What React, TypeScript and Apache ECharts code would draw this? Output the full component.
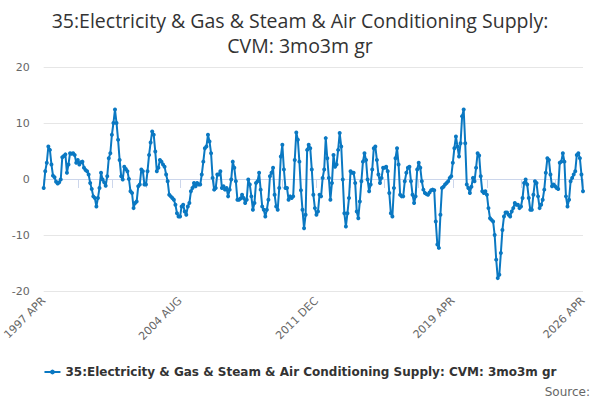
import * as echarts from 'echarts'
import { useEffect, useRef } from 'react'

const MONTHS = ['JAN', 'FEB', 'MAR', 'APR', 'MAY', 'JUN', 'JUL', 'AUG', 'SEP', 'OCT', 'NOV', 'DEC']
const START_YEAR = 1997
const START_MONTH = 3 // APR

// 3 month on 3 month growth, %, monthly from 1997 APR to 2026 APR
const growth = [
  -1.6, 1.4, 2.9, 5.8, 5.2, 2.6, 0.6, 0.3, -0.5, -0.8,
  -0.6, -0.1, 3.9, 4.1, 4.4, 1.1, 2.6, 4.6, 4.5, 4.6,
  4.3, 2.9, 3.4, 2.6, 3.0, 3.1, 2.0, 1.6, 1.4, 0.8,
  -0.7, -1.8, -3.1, -3.4, -4.9, -3.4, -1.6, 1.1, -0.1, -0.6,
  -1.2, 0.5, 3.7, 4.6, 7.9, 10.0, 12.4, 10.0, 7.0, 3.4,
  0.5, -0.1, 2.2, 1.8, 1.4, 0.0, -2.2, -2.5, -5.2, -4.3,
  -4.0, -1.3, -1.0, 1.7, 1.4, -1.0, -1.0, 1.4, 4.3, 6.5,
  8.5, 7.9, 4.9, 1.4, 2.0, 3.4, 3.1, 2.6, 2.2, 0.8,
  -0.4, -2.8, -3.1, -3.4, -3.7, -4.6, -6.1, -6.7, -6.7, -4.9,
  -4.6, -5.8, -6.4, -4.9, -4.3, -2.2, -1.6, -0.7, -1.3, -0.7,
  -1.0, -1.0, 0.8, 3.1, 5.5, 5.8, 7.9, 6.7, 4.6, 0.2,
  -1.9, -1.6, 0.8, 0.8, 1.4, -1.6, -1.3, -1.9, -1.6, -3.1,
  -1.9, -0.1, 3.1, 2.0, -0.4, -3.7, -3.7, -3.5, -2.8, -3.4,
  -4.3, -3.7, -0.1, -1.0, -3.1, -5.5, -4.3, -0.7, -0.4, 1.1,
  -1.9, -4.9, -5.5, -6.7, -5.5, -3.7, 0.5, 1.1, 2.0, -2.8,
  -4.9, -5.5, -1.6, 4.0, 6.1, 1.7, -1.6, -1.6, -3.7, -3.1,
  -3.4, -3.1, 3.4, 8.3, 7.0, 3.1, -2.0, -5.5, -8.8, -6.4,
  5.2, 6.1, 5.5, 1.7, -2.8, -5.2, -6.4, -5.8, -2.8, -3.1,
  0.2, 1.7, 7.3, 3.7, 0.2, -3.7, -0.7, 4.3, 2.2, 2.6,
  5.2, 8.2, 5.8, -0.1, -6.1, -8.5, -6.1, -3.4, 1.4, 1.1,
  1.1, -0.7, -5.8, -7.0, -4.0, -0.4, 3.1, 4.6, 3.4, -0.1,
  -2.2, -1.0, 1.7, 5.5, 5.8, 3.4, 0.8, -0.7, 0.2, 2.0,
  2.0, 2.2, 1.4, -2.5, -6.1, -6.7, -1.6, 3.7, 5.5, 2.6,
  -2.8, -3.1, -3.1, -0.4, 1.1, 2.0, 2.2, -0.4, -2.8, -4.3,
  -3.1, 1.7, 2.9, 2.0, -0.4, -1.9, -2.5, -2.7, -2.8, -2.4,
  -2.0, -1.9, -2.0, -7.6, -11.7, -12.3, -6.4, -1.6, -1.4, -1.0,
  -0.7, -0.4, 0.2, 0.5, 2.9, 5.5, 7.6, 5.8, 4.0, 6.4,
  11.2, 12.4, 6.4, -1.0, -1.6, -2.5, -1.4, 0.2, -0.4, 2.0,
  4.6, 4.2, 0.5, -2.2, -2.5, -2.2, -2.8, -5.2, -7.0, -7.3,
  -7.6, -10.0, -14.4, -17.7, -17.1, -13.2, -9.1, -6.7, -6.0, -6.0,
  -6.4, -6.7, -5.8, -5.2, -4.3, -4.6, -4.6, -5.2, -4.9, -3.4,
  -0.7, -0.1, -1.0, -3.4, -5.5, -5.5, -2.8, -0.4, -0.7, -3.1,
  -5.2, -4.6, -3.7, -1.9, 1.1, 3.7, 3.4, 0.8, -1.3, -1.0,
  -1.3, -1.6, -1.8, 2.9, 3.1, 4.6, 3.1, -3.1, -4.9, -3.7,
  -0.4, 0.2, 0.8, 1.4, 4.3, 4.6, 3.7, 0.8, -2.2,
]

const months = growth.map((_, i) => {
  const m = START_MONTH + i
  return `${START_YEAR + Math.floor(m / 12)} ${MONTHS[m % 12]}`
})

const SERIES_NAME = '35:Electricity & Gas & Steam & Air Conditioning Supply: CVM: 3mo3m gr'
const TITLE = '35:Electricity & Gas & Steam & Air Conditioning Supply:\nCVM: 3mo3m gr'

export default function App() {
  const chartRef = useRef<HTMLDivElement>(null)

  useEffect(() => {
    if (!chartRef.current) return
    const chart = echarts.init(chartRef.current, null, { renderer: 'svg' })

    chart.setOption({
      animation: false,
      textStyle: { fontFamily: 'DejaVu Sans' },
      title: {
        text: TITLE,
        left: 'center',
        top: 3,
        textStyle: {
          fontFamily: 'Open Sans',
          fontSize: 19.5,
          fontWeight: 'normal',
          color: '#333333',
          lineHeight: 25,
        },
      },
      grid: { left: 43, right: 17, top: 67, bottom: 109, containLabel: false },
      legend: {
        bottom: 17,
        left: 'center',
        itemWidth: 16,
        itemHeight: 6,
        textStyle: { fontSize: 12, fontWeight: 'bold', color: '#333333' },
        data: [SERIES_NAME],
      },
      xAxis: {
        type: 'category',
        data: months,
        boundaryGap: false,
        axisLine: { lineStyle: { color: '#ccd6eb' } },
        axisTick: { interval: 21, length: 9, lineStyle: { color: '#ccd6eb' } },
        axisLabel: {
          interval: 87,
          showMinLabel: true,
          showMaxLabel: true,
          rotate: 45,
          color: '#666666',
          fontSize: 11,
          margin: 8,
        },
        splitLine: { show: false },
      },
      yAxis: {
        type: 'value',
        min: -20,
        max: 20,
        interval: 10,
        axisLine: { show: false },
        axisTick: { show: false },
        axisLabel: { color: '#666666', fontSize: 11, margin: 14 },
        splitLine: { lineStyle: { color: '#e6e6e6' } },
      },
      series: [
        {
          name: SERIES_NAME,
          type: 'line',
          data: growth,
          symbol: 'circle',
          symbolSize: 4,
          showAllSymbol: true,
          lineStyle: { width: 2, color: '#0a78c2' },
          itemStyle: { color: '#0a78c2' },
        },
      ],
      graphic: [
        {
          type: 'text',
          right: 10,
          bottom: 2,
          style: { text: 'Source:', fill: '#666666', fontSize: 12, fontFamily: 'DejaVu Sans' },
        },
      ],
    })

    return () => {
      chart.dispose()
    }
  }, [])

  return (
    <div
      ref={chartRef}
      style={{ position: 'fixed', left: 0, top: 0, width: 600, height: 400, background: '#ffffff' }}
    />
  )
}
